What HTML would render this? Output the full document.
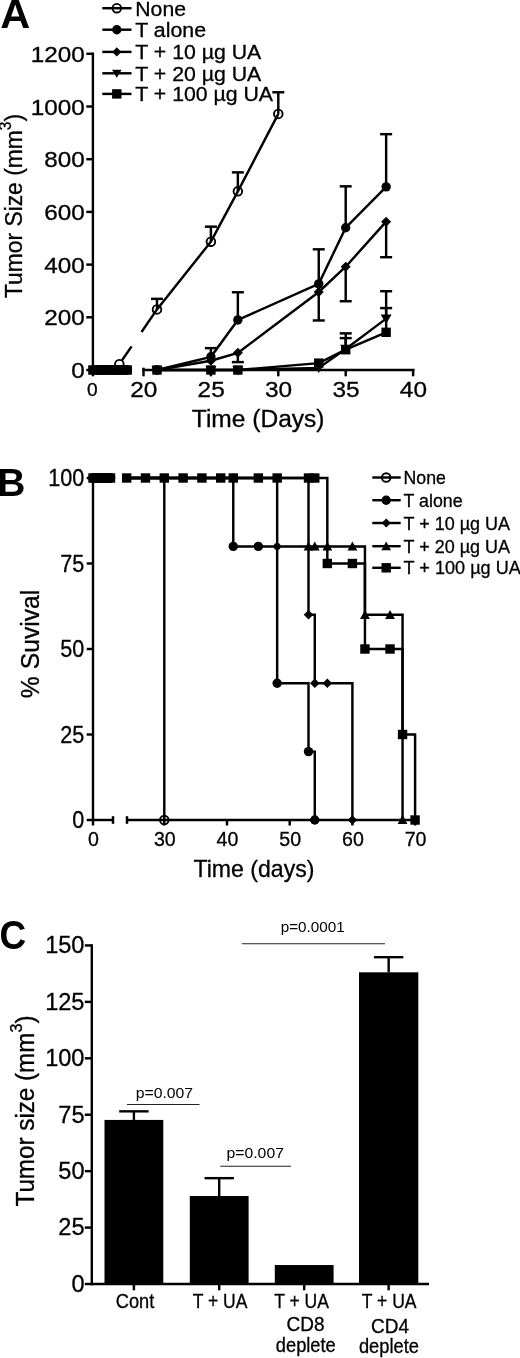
<!DOCTYPE html>
<html lang="en"><head><meta charset="utf-8"><title>Figure</title>
<style>
html,body{margin:0;padding:0;background:#fff;}
svg{display:block;}
text{font-family:"Liberation Sans",Arial,Helvetica,sans-serif;fill:#000;stroke:#000;stroke-width:0.3px;}
text[font-weight="bold"],text.thin{stroke-width:0;}
</style></head><body>
<svg width="520" height="1358" viewBox="0 0 520 1358">
<rect width="520" height="1358" fill="#fff"/>
<g id="panelA">
<line x1="92.90" y1="52.58" x2="92.90" y2="371.23" stroke="#000" stroke-width="2.4" stroke-linecap="butt"/>
<line x1="86.30" y1="370.00" x2="92.90" y2="370.00" stroke="#000" stroke-width="2.45" stroke-linecap="butt"/>
<text x="84.80" y="378.00" font-size="21.8" text-anchor="end" font-weight="normal" textLength="13.51" lengthAdjust="spacingAndGlyphs" >0</text>
<line x1="86.30" y1="317.30" x2="92.90" y2="317.30" stroke="#000" stroke-width="2.45" stroke-linecap="butt"/>
<text x="84.80" y="325.30" font-size="21.8" text-anchor="end" font-weight="normal" textLength="40.54" lengthAdjust="spacingAndGlyphs" >200</text>
<line x1="86.30" y1="264.60" x2="92.90" y2="264.60" stroke="#000" stroke-width="2.45" stroke-linecap="butt"/>
<text x="84.80" y="272.60" font-size="21.8" text-anchor="end" font-weight="normal" textLength="40.54" lengthAdjust="spacingAndGlyphs" >400</text>
<line x1="86.30" y1="211.90" x2="92.90" y2="211.90" stroke="#000" stroke-width="2.45" stroke-linecap="butt"/>
<text x="84.80" y="219.90" font-size="21.8" text-anchor="end" font-weight="normal" textLength="40.54" lengthAdjust="spacingAndGlyphs" >600</text>
<line x1="86.30" y1="159.20" x2="92.90" y2="159.20" stroke="#000" stroke-width="2.45" stroke-linecap="butt"/>
<text x="84.80" y="167.20" font-size="21.8" text-anchor="end" font-weight="normal" textLength="40.54" lengthAdjust="spacingAndGlyphs" >800</text>
<line x1="86.30" y1="106.50" x2="92.90" y2="106.50" stroke="#000" stroke-width="2.45" stroke-linecap="butt"/>
<text x="84.80" y="114.50" font-size="21.8" text-anchor="end" font-weight="normal" textLength="54.06" lengthAdjust="spacingAndGlyphs" >1000</text>
<line x1="86.30" y1="53.80" x2="92.90" y2="53.80" stroke="#000" stroke-width="2.45" stroke-linecap="butt"/>
<text x="84.80" y="61.80" font-size="21.8" text-anchor="end" font-weight="normal" textLength="54.06" lengthAdjust="spacingAndGlyphs" >1200</text>
<line x1="91.90" y1="370.00" x2="131.80" y2="370.00" stroke="#000" stroke-width="2.45" stroke-linecap="butt"/>
<line x1="142.28" y1="370.00" x2="414.60" y2="370.00" stroke="#000" stroke-width="2.45" stroke-linecap="butt"/>
<line x1="143.50" y1="367.70" x2="143.50" y2="376.30" stroke="#000" stroke-width="2.45" stroke-linecap="butt"/>
<line x1="210.90" y1="370.00" x2="210.90" y2="376.30" stroke="#000" stroke-width="2.45" stroke-linecap="butt"/>
<line x1="278.30" y1="370.00" x2="278.30" y2="376.30" stroke="#000" stroke-width="2.45" stroke-linecap="butt"/>
<line x1="345.70" y1="370.00" x2="345.70" y2="376.30" stroke="#000" stroke-width="2.45" stroke-linecap="butt"/>
<line x1="413.10" y1="370.00" x2="413.10" y2="376.30" stroke="#000" stroke-width="2.45" stroke-linecap="butt"/>
<text x="143.80" y="396.90" font-size="22" text-anchor="middle" font-weight="normal" textLength="27.16" lengthAdjust="spacingAndGlyphs" >20</text>
<text x="211.20" y="396.90" font-size="22" text-anchor="middle" font-weight="normal" textLength="27.16" lengthAdjust="spacingAndGlyphs" >25</text>
<text x="278.60" y="396.90" font-size="22" text-anchor="middle" font-weight="normal" textLength="27.16" lengthAdjust="spacingAndGlyphs" >30</text>
<text x="346.00" y="396.90" font-size="22" text-anchor="middle" font-weight="normal" textLength="27.16" lengthAdjust="spacingAndGlyphs" >35</text>
<text x="413.40" y="396.90" font-size="22" text-anchor="middle" font-weight="normal" textLength="27.16" lengthAdjust="spacingAndGlyphs" >40</text>
<line x1="92.90" y1="370.00" x2="92.90" y2="376.30" stroke="#000" stroke-width="2.45" stroke-linecap="butt"/>
<text x="92.40" y="395.50" font-size="18" text-anchor="middle" font-weight="normal" textLength="10.61" lengthAdjust="spacingAndGlyphs" >0</text>
<text x="258.20" y="427.00" font-size="23" text-anchor="middle" font-weight="normal" textLength="132.72" lengthAdjust="spacingAndGlyphs" >Time (Days)</text>
<text transform="translate(22.1,206) rotate(-90) scale(1,1.06)" font-size="22.8" text-anchor="middle" textLength="184" lengthAdjust="spacingAndGlyphs">Tumor Size (mm<tspan font-size="15.5" dy="-10.5">3</tspan><tspan dy="10.5">)</tspan></text>
<text x="0.30" y="28.00" font-size="41.5" text-anchor="start" font-weight="bold" >A</text>
<line x1="156.98" y1="309.39" x2="156.98" y2="298.86" stroke="#000" stroke-width="2.45" stroke-linecap="butt"/>
<line x1="150.98" y1="298.86" x2="162.98" y2="298.86" stroke="#000" stroke-width="2.45" stroke-linecap="butt"/>
<line x1="210.90" y1="241.68" x2="210.90" y2="226.66" stroke="#000" stroke-width="2.45" stroke-linecap="butt"/>
<line x1="204.90" y1="226.66" x2="216.90" y2="226.66" stroke="#000" stroke-width="2.45" stroke-linecap="butt"/>
<line x1="237.86" y1="191.35" x2="237.86" y2="172.38" stroke="#000" stroke-width="2.45" stroke-linecap="butt"/>
<line x1="231.86" y1="172.38" x2="243.86" y2="172.38" stroke="#000" stroke-width="2.45" stroke-linecap="butt"/>
<line x1="278.30" y1="113.88" x2="278.30" y2="92.27" stroke="#000" stroke-width="2.45" stroke-linecap="butt"/>
<line x1="272.30" y1="92.27" x2="284.30" y2="92.27" stroke="#000" stroke-width="2.45" stroke-linecap="butt"/>
<line x1="210.90" y1="356.82" x2="210.90" y2="348.13" stroke="#000" stroke-width="2.45" stroke-linecap="butt"/>
<line x1="204.90" y1="348.13" x2="216.90" y2="348.13" stroke="#000" stroke-width="2.45" stroke-linecap="butt"/>
<line x1="237.86" y1="319.94" x2="237.86" y2="292.27" stroke="#000" stroke-width="2.45" stroke-linecap="butt"/>
<line x1="231.86" y1="292.27" x2="243.86" y2="292.27" stroke="#000" stroke-width="2.45" stroke-linecap="butt"/>
<line x1="318.74" y1="283.84" x2="318.74" y2="249.32" stroke="#000" stroke-width="2.45" stroke-linecap="butt"/>
<line x1="312.74" y1="249.32" x2="324.74" y2="249.32" stroke="#000" stroke-width="2.45" stroke-linecap="butt"/>
<line x1="318.74" y1="283.84" x2="318.74" y2="320.46" stroke="#000" stroke-width="2.45" stroke-linecap="butt"/>
<line x1="312.74" y1="320.46" x2="324.74" y2="320.46" stroke="#000" stroke-width="2.45" stroke-linecap="butt"/>
<line x1="345.70" y1="227.71" x2="345.70" y2="186.34" stroke="#000" stroke-width="2.45" stroke-linecap="butt"/>
<line x1="339.70" y1="186.34" x2="351.70" y2="186.34" stroke="#000" stroke-width="2.45" stroke-linecap="butt"/>
<line x1="386.14" y1="186.87" x2="386.14" y2="134.17" stroke="#000" stroke-width="2.45" stroke-linecap="butt"/>
<line x1="380.14" y1="134.17" x2="392.14" y2="134.17" stroke="#000" stroke-width="2.45" stroke-linecap="butt"/>
<line x1="237.86" y1="352.87" x2="237.86" y2="362.10" stroke="#000" stroke-width="2.45" stroke-linecap="butt"/>
<line x1="231.86" y1="362.10" x2="243.86" y2="362.10" stroke="#000" stroke-width="2.45" stroke-linecap="butt"/>
<line x1="345.70" y1="266.71" x2="345.70" y2="301.23" stroke="#000" stroke-width="2.45" stroke-linecap="butt"/>
<line x1="339.70" y1="301.23" x2="351.70" y2="301.23" stroke="#000" stroke-width="2.45" stroke-linecap="butt"/>
<line x1="386.14" y1="221.65" x2="386.14" y2="257.22" stroke="#000" stroke-width="2.45" stroke-linecap="butt"/>
<line x1="380.14" y1="257.22" x2="392.14" y2="257.22" stroke="#000" stroke-width="2.45" stroke-linecap="butt"/>
<line x1="345.70" y1="348.92" x2="345.70" y2="333.37" stroke="#000" stroke-width="2.45" stroke-linecap="butt"/>
<line x1="339.70" y1="333.37" x2="351.70" y2="333.37" stroke="#000" stroke-width="2.45" stroke-linecap="butt"/>
<line x1="386.14" y1="318.62" x2="386.14" y2="291.21" stroke="#000" stroke-width="2.45" stroke-linecap="butt"/>
<line x1="380.14" y1="291.21" x2="392.14" y2="291.21" stroke="#000" stroke-width="2.45" stroke-linecap="butt"/>
<line x1="345.70" y1="349.71" x2="345.70" y2="338.12" stroke="#000" stroke-width="2.45" stroke-linecap="butt"/>
<line x1="339.70" y1="338.12" x2="351.70" y2="338.12" stroke="#000" stroke-width="2.45" stroke-linecap="butt"/>
<line x1="386.14" y1="332.32" x2="386.14" y2="308.08" stroke="#000" stroke-width="2.45" stroke-linecap="butt"/>
<line x1="380.14" y1="308.08" x2="392.14" y2="308.08" stroke="#000" stroke-width="2.45" stroke-linecap="butt"/>
<line x1="121.86" y1="360.56" x2="131.60" y2="346.37" stroke="#000" stroke-width="2.45" stroke-linecap="butt"/>
<line x1="141.50" y1="331.95" x2="156.98" y2="309.39" stroke="#000" stroke-width="2.45" stroke-linecap="butt"/>
<polyline points="156.98,309.39 210.90,241.68 237.86,191.35 278.30,113.88" fill="none" stroke="#000" stroke-width="2.45" stroke-linejoin="miter"/>
<polyline points="156.98,370.00 210.90,356.82 237.86,319.94 318.74,283.84 345.70,227.71 386.14,186.87" fill="none" stroke="#000" stroke-width="2.45" stroke-linejoin="miter"/>
<polyline points="156.98,370.00 210.90,360.78 237.86,352.87 318.74,292.00 345.70,266.71 386.14,221.65" fill="none" stroke="#000" stroke-width="2.45" stroke-linejoin="miter"/>
<polyline points="156.98,370.00 210.90,370.00 237.86,370.00 318.74,367.89 345.70,348.92 386.14,318.62" fill="none" stroke="#000" stroke-width="2.45" stroke-linejoin="miter"/>
<polyline points="156.98,370.00 210.90,370.00 237.86,370.00 318.74,363.15 345.70,349.71 386.14,332.32" fill="none" stroke="#000" stroke-width="2.45" stroke-linejoin="miter"/>
<rect x="88.20" y="365.30" width="9.40" height="9.40" fill="#000"/>
<circle cx="92.90" cy="370.00" r="4.7" fill="#000"/>
<polygon points="87.90,370.00 92.90,365.00 97.90,370.00 92.90,375.00" fill="#000"/>
<rect x="94.26" y="365.30" width="9.40" height="9.40" fill="#000"/>
<circle cx="98.96" cy="370.00" r="4.7" fill="#000"/>
<polygon points="93.96,370.00 98.96,365.00 103.96,370.00 98.96,375.00" fill="#000"/>
<rect x="98.30" y="365.30" width="9.40" height="9.40" fill="#000"/>
<circle cx="103.00" cy="370.00" r="4.7" fill="#000"/>
<polygon points="98.00,370.00 103.00,365.00 108.00,370.00 103.00,375.00" fill="#000"/>
<rect x="102.34" y="365.30" width="9.40" height="9.40" fill="#000"/>
<circle cx="107.04" cy="370.00" r="4.7" fill="#000"/>
<polygon points="102.04,370.00 107.04,365.00 112.04,370.00 107.04,375.00" fill="#000"/>
<rect x="108.40" y="365.30" width="9.40" height="9.40" fill="#000"/>
<circle cx="113.10" cy="370.00" r="4.7" fill="#000"/>
<polygon points="108.10,370.00 113.10,365.00 118.10,370.00 113.10,375.00" fill="#000"/>
<rect x="112.44" y="365.30" width="9.40" height="9.40" fill="#000"/>
<circle cx="117.14" cy="370.00" r="4.7" fill="#000"/>
<polygon points="112.14,370.00 117.14,365.00 122.14,370.00 117.14,375.00" fill="#000"/>
<rect x="116.48" y="365.30" width="9.40" height="9.40" fill="#000"/>
<circle cx="121.18" cy="370.00" r="4.7" fill="#000"/>
<polygon points="116.18,370.00 121.18,365.00 126.18,370.00 121.18,375.00" fill="#000"/>
<rect x="122.54" y="365.30" width="9.40" height="9.40" fill="#000"/>
<circle cx="127.24" cy="370.00" r="4.7" fill="#000"/>
<polygon points="122.24,370.00 127.24,365.00 132.24,370.00 127.24,375.00" fill="#000"/>
<rect x="92.90" y="365.50" width="34.34" height="9.00" fill="#000"/>
<circle cx="156.98" cy="370.00" r="4.7" fill="#000"/>
<circle cx="210.90" cy="356.82" r="4.7" fill="#000"/>
<circle cx="237.86" cy="319.94" r="4.7" fill="#000"/>
<circle cx="318.74" cy="283.84" r="4.7" fill="#000"/>
<circle cx="345.70" cy="227.71" r="4.7" fill="#000"/>
<circle cx="386.14" cy="186.87" r="4.7" fill="#000"/>
<polygon points="151.98,370.00 156.98,365.00 161.98,370.00 156.98,375.00" fill="#000"/>
<polygon points="205.90,360.78 210.90,355.78 215.90,360.78 210.90,365.78" fill="#000"/>
<polygon points="232.86,352.87 237.86,347.87 242.86,352.87 237.86,357.87" fill="#000"/>
<polygon points="313.74,292.00 318.74,287.00 323.74,292.00 318.74,297.00" fill="#000"/>
<polygon points="340.70,266.71 345.70,261.71 350.70,266.71 345.70,271.71" fill="#000"/>
<polygon points="381.14,221.65 386.14,216.65 391.14,221.65 386.14,226.65" fill="#000"/>
<polygon points="151.48,365.88 162.48,365.88 156.98,375.23" fill="#000"/>
<polygon points="205.40,365.88 216.40,365.88 210.90,375.23" fill="#000"/>
<polygon points="232.36,365.88 243.36,365.88 237.86,375.23" fill="#000"/>
<polygon points="313.24,363.77 324.24,363.77 318.74,373.12" fill="#000"/>
<polygon points="340.20,344.80 351.20,344.80 345.70,354.15" fill="#000"/>
<polygon points="380.64,314.49 391.64,314.49 386.14,323.84" fill="#000"/>
<rect x="152.28" y="365.30" width="9.40" height="9.40" fill="#000"/>
<rect x="206.20" y="365.30" width="9.40" height="9.40" fill="#000"/>
<rect x="233.16" y="365.30" width="9.40" height="9.40" fill="#000"/>
<rect x="314.04" y="358.45" width="9.40" height="9.40" fill="#000"/>
<rect x="341.00" y="345.01" width="9.40" height="9.40" fill="#000"/>
<rect x="381.44" y="327.62" width="9.40" height="9.40" fill="#000"/>
<circle cx="119.36" cy="364.20" r="4.3" fill="none" stroke="#000" stroke-width="1.9"/>
<circle cx="156.98" cy="309.39" r="4.3" fill="none" stroke="#000" stroke-width="1.9"/>
<circle cx="210.90" cy="241.68" r="4.3" fill="none" stroke="#000" stroke-width="1.9"/>
<circle cx="237.86" cy="191.35" r="4.3" fill="none" stroke="#000" stroke-width="1.9"/>
<circle cx="278.30" cy="113.88" r="4.3" fill="none" stroke="#000" stroke-width="1.9"/>
<line x1="102.30" y1="8.20" x2="131.50" y2="8.20" stroke="#000" stroke-width="2.45" stroke-linecap="butt"/>
<circle cx="116.80" cy="8.20" r="4.3" fill="none" stroke="#000" stroke-width="1.9"/>
<text x="135.30" y="15.60" font-size="20" text-anchor="start" font-weight="normal" textLength="50.67" lengthAdjust="spacingAndGlyphs" >None</text>
<line x1="102.30" y1="29.70" x2="131.50" y2="29.70" stroke="#000" stroke-width="2.45" stroke-linecap="butt"/>
<circle cx="116.80" cy="29.70" r="4.7" fill="#000"/>
<text x="135.30" y="37.10" font-size="20" text-anchor="start" font-weight="normal" textLength="70.70" lengthAdjust="spacingAndGlyphs" >T alone</text>
<line x1="102.30" y1="51.90" x2="131.50" y2="51.90" stroke="#000" stroke-width="2.45" stroke-linecap="butt"/>
<polygon points="112.20,51.90 116.80,47.30 121.40,51.90 116.80,56.50" fill="#000"/>
<text x="135.30" y="59.30" font-size="20" text-anchor="start" font-weight="normal" textLength="125.93" lengthAdjust="spacingAndGlyphs" >T + 10 µg UA</text>
<line x1="102.30" y1="73.30" x2="131.50" y2="73.30" stroke="#000" stroke-width="2.45" stroke-linecap="butt"/>
<polygon points="112.00,69.70 121.60,69.70 116.80,77.86" fill="#000"/>
<text x="135.30" y="80.70" font-size="20" text-anchor="start" font-weight="normal" textLength="125.93" lengthAdjust="spacingAndGlyphs" >T + 20 µg UA</text>
<line x1="102.30" y1="93.90" x2="131.50" y2="93.90" stroke="#000" stroke-width="2.45" stroke-linecap="butt"/>
<rect x="112.10" y="89.20" width="9.40" height="9.40" fill="#000"/>
<text x="135.30" y="101.30" font-size="20" text-anchor="start" font-weight="normal" textLength="137.72" lengthAdjust="spacingAndGlyphs" >T + 100 µg UA</text>
</g>
<g id="panelB">
<line x1="93.00" y1="476.77" x2="93.00" y2="821.23" stroke="#000" stroke-width="2.4" stroke-linecap="butt"/>
<line x1="86.70" y1="820.00" x2="93.00" y2="820.00" stroke="#000" stroke-width="2.45" stroke-linecap="butt"/>
<text x="84.30" y="828.00" font-size="23" text-anchor="end" font-weight="normal" textLength="12.02" lengthAdjust="spacingAndGlyphs" >0</text>
<line x1="86.70" y1="734.50" x2="93.00" y2="734.50" stroke="#000" stroke-width="2.45" stroke-linecap="butt"/>
<text x="84.30" y="742.50" font-size="23" text-anchor="end" font-weight="normal" textLength="24.04" lengthAdjust="spacingAndGlyphs" >25</text>
<line x1="86.70" y1="649.00" x2="93.00" y2="649.00" stroke="#000" stroke-width="2.45" stroke-linecap="butt"/>
<text x="84.30" y="657.00" font-size="23" text-anchor="end" font-weight="normal" textLength="24.04" lengthAdjust="spacingAndGlyphs" >50</text>
<line x1="86.70" y1="563.50" x2="93.00" y2="563.50" stroke="#000" stroke-width="2.45" stroke-linecap="butt"/>
<text x="84.30" y="571.50" font-size="23" text-anchor="end" font-weight="normal" textLength="24.04" lengthAdjust="spacingAndGlyphs" >75</text>
<line x1="86.70" y1="478.00" x2="93.00" y2="478.00" stroke="#000" stroke-width="2.45" stroke-linecap="butt"/>
<text x="84.30" y="486.00" font-size="23" text-anchor="end" font-weight="normal" textLength="36.06" lengthAdjust="spacingAndGlyphs" >100</text>
<line x1="92.00" y1="820.00" x2="113.80" y2="820.00" stroke="#000" stroke-width="2.45" stroke-linecap="butt"/>
<line x1="113.00" y1="816.20" x2="113.00" y2="823.80" stroke="#000" stroke-width="2.45" stroke-linecap="butt"/>
<line x1="127.00" y1="816.20" x2="127.00" y2="823.80" stroke="#000" stroke-width="2.45" stroke-linecap="butt"/>
<line x1="126.50" y1="820.00" x2="416.00" y2="820.00" stroke="#000" stroke-width="2.45" stroke-linecap="butt"/>
<line x1="93.00" y1="820.00" x2="93.00" y2="825.50" stroke="#000" stroke-width="2.45" stroke-linecap="butt"/>
<text x="93.40" y="845.80" font-size="20" text-anchor="middle" font-weight="normal" textLength="10.90" lengthAdjust="spacingAndGlyphs" >0</text>
<line x1="164.30" y1="820.00" x2="164.30" y2="825.50" stroke="#000" stroke-width="2.45" stroke-linecap="butt"/>
<text x="164.80" y="845.80" font-size="20" text-anchor="middle" font-weight="normal" textLength="21.80" lengthAdjust="spacingAndGlyphs" >30</text>
<line x1="227.00" y1="820.00" x2="227.00" y2="825.50" stroke="#000" stroke-width="2.45" stroke-linecap="butt"/>
<text x="227.50" y="845.80" font-size="20" text-anchor="middle" font-weight="normal" textLength="21.80" lengthAdjust="spacingAndGlyphs" >40</text>
<line x1="289.70" y1="820.00" x2="289.70" y2="825.50" stroke="#000" stroke-width="2.45" stroke-linecap="butt"/>
<text x="290.20" y="845.80" font-size="20" text-anchor="middle" font-weight="normal" textLength="21.80" lengthAdjust="spacingAndGlyphs" >50</text>
<line x1="352.40" y1="820.00" x2="352.40" y2="825.50" stroke="#000" stroke-width="2.45" stroke-linecap="butt"/>
<text x="352.90" y="845.80" font-size="20" text-anchor="middle" font-weight="normal" textLength="21.80" lengthAdjust="spacingAndGlyphs" >60</text>
<line x1="415.10" y1="820.00" x2="415.10" y2="825.50" stroke="#000" stroke-width="2.45" stroke-linecap="butt"/>
<text x="415.60" y="845.80" font-size="20" text-anchor="middle" font-weight="normal" textLength="21.80" lengthAdjust="spacingAndGlyphs" >70</text>
<text x="254.00" y="877.00" font-size="24" text-anchor="middle" font-weight="normal" textLength="120.97" lengthAdjust="spacingAndGlyphs" >Time (days)</text>
<text transform="translate(38.8,643.9) rotate(-90)" font-size="25" text-anchor="middle" textLength="108.5" lengthAdjust="spacingAndGlyphs">% Suvival</text>
<text x="-2.80" y="496.00" font-size="39" text-anchor="start" font-weight="bold" >B</text>
<polyline points="122.30,478.00 164.30,478.00 164.30,820.00" fill="none" stroke="#000" stroke-width="2.45" stroke-linejoin="miter"/>
<polyline points="122.30,478.00 233.27,478.00 233.27,546.40 277.16,546.40 277.16,683.20 308.51,683.20 308.51,751.60 314.78,751.60 314.78,820.00" fill="none" stroke="#000" stroke-width="2.45" stroke-linejoin="miter"/>
<polyline points="122.30,478.00 308.51,478.00 308.51,614.80 314.78,614.80 314.78,683.20 352.40,683.20 352.40,820.00" fill="none" stroke="#000" stroke-width="2.45" stroke-linejoin="miter"/>
<polyline points="122.30,478.00 277.16,478.00 277.16,546.40 364.94,546.40 364.94,614.80 402.56,614.80 402.56,820.00" fill="none" stroke="#000" stroke-width="2.45" stroke-linejoin="miter"/>
<polyline points="122.30,478.00 327.32,478.00 327.32,563.50 364.94,563.50 364.94,649.00 402.56,649.00 402.56,734.50 415.10,734.50 415.10,820.00" fill="none" stroke="#000" stroke-width="2.45" stroke-linejoin="miter"/>
<rect x="88.30" y="473.30" width="9.40" height="9.40" fill="#000"/>
<circle cx="93.00" cy="478.00" r="4.7" fill="#000"/>
<polygon points="88.00,478.00 93.00,473.00 98.00,478.00 93.00,483.00" fill="#000"/>
<rect x="90.80" y="473.30" width="9.40" height="9.40" fill="#000"/>
<circle cx="95.50" cy="478.00" r="4.7" fill="#000"/>
<polygon points="90.50,478.00 95.50,473.00 100.50,478.00 95.50,483.00" fill="#000"/>
<rect x="93.30" y="473.30" width="9.40" height="9.40" fill="#000"/>
<circle cx="98.00" cy="478.00" r="4.7" fill="#000"/>
<polygon points="93.00,478.00 98.00,473.00 103.00,478.00 98.00,483.00" fill="#000"/>
<rect x="95.80" y="473.30" width="9.40" height="9.40" fill="#000"/>
<circle cx="100.50" cy="478.00" r="4.7" fill="#000"/>
<polygon points="95.50,478.00 100.50,473.00 105.50,478.00 100.50,483.00" fill="#000"/>
<rect x="98.30" y="473.30" width="9.40" height="9.40" fill="#000"/>
<circle cx="103.00" cy="478.00" r="4.7" fill="#000"/>
<polygon points="98.00,478.00 103.00,473.00 108.00,478.00 103.00,483.00" fill="#000"/>
<rect x="100.80" y="473.30" width="9.40" height="9.40" fill="#000"/>
<circle cx="105.50" cy="478.00" r="4.7" fill="#000"/>
<polygon points="100.50,478.00 105.50,473.00 110.50,478.00 105.50,483.00" fill="#000"/>
<rect x="103.29" y="473.30" width="9.40" height="9.40" fill="#000"/>
<circle cx="107.99" cy="478.00" r="4.7" fill="#000"/>
<polygon points="102.99,478.00 107.99,473.00 112.99,478.00 107.99,483.00" fill="#000"/>
<rect x="105.79" y="473.30" width="9.40" height="9.40" fill="#000"/>
<circle cx="110.49" cy="478.00" r="4.7" fill="#000"/>
<polygon points="105.49,478.00 110.49,473.00 115.49,478.00 110.49,483.00" fill="#000"/>
<rect x="93.00" y="473.30" width="17.49" height="9.40" fill="#000"/>
<rect x="121.98" y="473.30" width="9.40" height="9.40" fill="#000"/>
<rect x="140.79" y="473.30" width="9.40" height="9.40" fill="#000"/>
<rect x="159.60" y="473.30" width="9.40" height="9.40" fill="#000"/>
<rect x="178.41" y="473.30" width="9.40" height="9.40" fill="#000"/>
<rect x="197.22" y="473.30" width="9.40" height="9.40" fill="#000"/>
<rect x="216.03" y="473.30" width="9.40" height="9.40" fill="#000"/>
<rect x="228.57" y="473.30" width="9.40" height="9.40" fill="#000"/>
<rect x="253.65" y="473.30" width="9.40" height="9.40" fill="#000"/>
<rect x="272.46" y="473.30" width="9.40" height="9.40" fill="#000"/>
<rect x="303.81" y="473.30" width="9.40" height="9.40" fill="#000"/>
<rect x="310.08" y="473.30" width="9.40" height="9.40" fill="#000"/>
<circle cx="233.27" cy="546.40" r="4.7" fill="#000"/>
<circle cx="258.35" cy="546.40" r="4.7" fill="#000"/>
<circle cx="277.16" cy="683.20" r="4.7" fill="#000"/>
<circle cx="308.51" cy="751.60" r="4.7" fill="#000"/>
<circle cx="314.78" cy="820.00" r="4.7" fill="#000"/>
<polygon points="303.71,614.80 308.51,610.00 313.31,614.80 308.51,619.60" fill="#000"/>
<polygon points="309.98,683.20 314.78,678.40 319.58,683.20 314.78,688.00" fill="#000"/>
<polygon points="322.52,683.20 327.32,678.40 332.12,683.20 327.32,688.00" fill="#000"/>
<polygon points="347.60,820.00 352.40,815.20 357.20,820.00 352.40,824.80" fill="#000"/>
<circle cx="277.16" cy="546.40" r="3.4" fill="#000"/>
<polygon points="228.37,482.12 238.17,482.12 233.27,473.10" fill="#000"/>
<polygon points="303.61,550.52 313.41,550.52 308.51,541.50" fill="#000"/>
<polygon points="309.88,550.52 319.68,550.52 314.78,541.50" fill="#000"/>
<polygon points="322.42,550.52 332.22,550.52 327.32,541.50" fill="#000"/>
<polygon points="347.50,550.52 357.30,550.52 352.40,541.50" fill="#000"/>
<polygon points="360.04,618.92 369.84,618.92 364.94,609.90" fill="#000"/>
<polygon points="385.12,618.92 394.92,618.92 390.02,609.90" fill="#000"/>
<polygon points="397.66,824.12 407.46,824.12 402.56,815.10" fill="#000"/>
<rect x="322.62" y="558.80" width="9.40" height="9.40" fill="#000"/>
<rect x="347.70" y="558.80" width="9.40" height="9.40" fill="#000"/>
<rect x="360.24" y="644.30" width="9.40" height="9.40" fill="#000"/>
<rect x="385.32" y="644.30" width="9.40" height="9.40" fill="#000"/>
<rect x="397.86" y="729.80" width="9.40" height="9.40" fill="#000"/>
<rect x="410.40" y="815.30" width="9.40" height="9.40" fill="#000"/>
<circle cx="164.30" cy="820.00" r="4.3" fill="none" stroke="#000" stroke-width="1.9"/>
<line x1="372.30" y1="477.50" x2="400.70" y2="477.50" stroke="#000" stroke-width="2.45" stroke-linecap="butt"/>
<circle cx="386.20" cy="477.50" r="4.3" fill="none" stroke="#000" stroke-width="1.9"/>
<text x="403.60" y="484.10" font-size="18.5" text-anchor="start" font-weight="normal" textLength="42.23" lengthAdjust="spacingAndGlyphs" >None</text>
<line x1="372.30" y1="500.20" x2="400.70" y2="500.20" stroke="#000" stroke-width="2.45" stroke-linecap="butt"/>
<circle cx="386.20" cy="500.20" r="4.7" fill="#000"/>
<text x="403.60" y="506.80" font-size="18.5" text-anchor="start" font-weight="normal" textLength="58.92" lengthAdjust="spacingAndGlyphs" >T alone</text>
<line x1="372.30" y1="523.00" x2="400.70" y2="523.00" stroke="#000" stroke-width="2.45" stroke-linecap="butt"/>
<polygon points="381.60,523.00 386.20,518.40 390.80,523.00 386.20,527.60" fill="#000"/>
<text x="403.60" y="529.60" font-size="18.5" text-anchor="start" font-weight="normal" textLength="106.50" lengthAdjust="spacingAndGlyphs" >T + 10 µg UA</text>
<line x1="372.30" y1="546.20" x2="400.70" y2="546.20" stroke="#000" stroke-width="2.45" stroke-linecap="butt"/>
<polygon points="381.40,550.23 391.00,550.23 386.20,541.40" fill="#000"/>
<text x="403.60" y="552.80" font-size="18.5" text-anchor="start" font-weight="normal" textLength="106.50" lengthAdjust="spacingAndGlyphs" >T + 20 µg UA</text>
<line x1="372.30" y1="567.80" x2="400.70" y2="567.80" stroke="#000" stroke-width="2.45" stroke-linecap="butt"/>
<rect x="381.50" y="563.10" width="9.40" height="9.40" fill="#000"/>
<text x="403.60" y="574.40" font-size="18.5" text-anchor="start" font-weight="normal" textLength="117.20" lengthAdjust="spacingAndGlyphs" >T + 100 µg UA</text>
</g>
<g id="panelC">
<line x1="91.80" y1="944.23" x2="91.80" y2="1285.22" stroke="#000" stroke-width="2.4" stroke-linecap="butt"/>
<line x1="84.80" y1="1284.00" x2="91.80" y2="1284.00" stroke="#000" stroke-width="2.45" stroke-linecap="butt"/>
<text x="84.50" y="1291.90" font-size="24" text-anchor="end" font-weight="normal" textLength="13.12" lengthAdjust="spacingAndGlyphs" >0</text>
<line x1="84.80" y1="1227.58" x2="91.80" y2="1227.58" stroke="#000" stroke-width="2.45" stroke-linecap="butt"/>
<text x="84.50" y="1235.48" font-size="24" text-anchor="end" font-weight="normal" textLength="26.23" lengthAdjust="spacingAndGlyphs" >25</text>
<line x1="84.80" y1="1171.15" x2="91.80" y2="1171.15" stroke="#000" stroke-width="2.45" stroke-linecap="butt"/>
<text x="84.50" y="1179.05" font-size="24" text-anchor="end" font-weight="normal" textLength="26.23" lengthAdjust="spacingAndGlyphs" >50</text>
<line x1="84.80" y1="1114.72" x2="91.80" y2="1114.72" stroke="#000" stroke-width="2.45" stroke-linecap="butt"/>
<text x="84.50" y="1122.62" font-size="24" text-anchor="end" font-weight="normal" textLength="26.23" lengthAdjust="spacingAndGlyphs" >75</text>
<line x1="84.80" y1="1058.30" x2="91.80" y2="1058.30" stroke="#000" stroke-width="2.45" stroke-linecap="butt"/>
<text x="84.50" y="1066.20" font-size="24" text-anchor="end" font-weight="normal" textLength="39.35" lengthAdjust="spacingAndGlyphs" >100</text>
<line x1="84.80" y1="1001.88" x2="91.80" y2="1001.88" stroke="#000" stroke-width="2.45" stroke-linecap="butt"/>
<text x="84.50" y="1009.77" font-size="24" text-anchor="end" font-weight="normal" textLength="39.35" lengthAdjust="spacingAndGlyphs" >125</text>
<line x1="84.80" y1="945.45" x2="91.80" y2="945.45" stroke="#000" stroke-width="2.45" stroke-linecap="butt"/>
<text x="84.50" y="953.35" font-size="24" text-anchor="end" font-weight="normal" textLength="39.35" lengthAdjust="spacingAndGlyphs" >150</text>
<line x1="90.80" y1="1284.00" x2="429.00" y2="1284.00" stroke="#000" stroke-width="2.5" stroke-linecap="butt"/>
<line x1="133.90" y1="1119.92" x2="133.90" y2="1111.34" stroke="#000" stroke-width="2.4" stroke-linecap="butt"/>
<line x1="119.20" y1="1111.34" x2="148.60" y2="1111.34" stroke="#000" stroke-width="2.4" stroke-linecap="butt"/>
<rect x="104.50" y="1119.92" width="58.80" height="164.08" fill="#000"/>
<line x1="133.90" y1="1284.00" x2="133.90" y2="1290.30" stroke="#000" stroke-width="2.45" stroke-linecap="butt"/>
<line x1="219.20" y1="1195.98" x2="219.20" y2="1178.15" stroke="#000" stroke-width="2.4" stroke-linecap="butt"/>
<line x1="204.50" y1="1178.15" x2="233.90" y2="1178.15" stroke="#000" stroke-width="2.4" stroke-linecap="butt"/>
<rect x="189.80" y="1195.98" width="58.80" height="88.02" fill="#000"/>
<line x1="219.20" y1="1284.00" x2="219.20" y2="1290.30" stroke="#000" stroke-width="2.45" stroke-linecap="butt"/>
<rect x="274.80" y="1265.04" width="58.80" height="18.96" fill="#000"/>
<line x1="304.20" y1="1284.00" x2="304.20" y2="1290.30" stroke="#000" stroke-width="2.45" stroke-linecap="butt"/>
<line x1="388.65" y1="972.31" x2="388.65" y2="957.19" stroke="#000" stroke-width="2.4" stroke-linecap="butt"/>
<line x1="373.95" y1="957.19" x2="403.35" y2="957.19" stroke="#000" stroke-width="2.4" stroke-linecap="butt"/>
<rect x="359.00" y="972.31" width="59.30" height="311.69" fill="#000"/>
<line x1="388.65" y1="1284.00" x2="388.65" y2="1290.30" stroke="#000" stroke-width="2.45" stroke-linecap="butt"/>
<line x1="127.00" y1="1104.50" x2="199.50" y2="1104.50" stroke="#222" stroke-width="1.1" stroke-linecap="butt"/>
<text x="164.40" y="1098.10" font-size="15.4" text-anchor="middle" font-weight="normal" textLength="57.50" lengthAdjust="spacingAndGlyphs" class="thin">p=0.007</text>
<line x1="220.30" y1="1166.30" x2="291.00" y2="1166.30" stroke="#222" stroke-width="1.1" stroke-linecap="butt"/>
<text x="255.20" y="1157.90" font-size="15.4" text-anchor="middle" font-weight="normal" textLength="57.50" lengthAdjust="spacingAndGlyphs" class="thin">p=0.007</text>
<line x1="241.80" y1="943.70" x2="385.00" y2="943.70" stroke="#222" stroke-width="1.1" stroke-linecap="butt"/>
<text x="312.70" y="931.60" font-size="15.4" text-anchor="middle" font-weight="normal" textLength="64.00" lengthAdjust="spacingAndGlyphs" class="thin">p=0.0001</text>
<text x="135.00" y="1308.00" font-size="20" text-anchor="middle" font-weight="normal" textLength="38.50" lengthAdjust="spacingAndGlyphs" >Cont</text>
<text x="220.00" y="1308.00" font-size="20" text-anchor="middle" font-weight="normal" textLength="54.70" lengthAdjust="spacingAndGlyphs" >T + UA</text>
<text x="301.50" y="1308.00" font-size="20" text-anchor="middle" font-weight="normal" textLength="54.70" lengthAdjust="spacingAndGlyphs" >T + UA</text>
<text x="305.50" y="1331.30" font-size="20" text-anchor="middle" font-weight="normal" textLength="38.00" lengthAdjust="spacingAndGlyphs" >CD8</text>
<text x="305.80" y="1351.50" font-size="20" text-anchor="middle" font-weight="normal" textLength="60.00" lengthAdjust="spacingAndGlyphs" >deplete</text>
<text x="389.20" y="1308.00" font-size="20" text-anchor="middle" font-weight="normal" textLength="54.70" lengthAdjust="spacingAndGlyphs" >T + UA</text>
<text x="390.00" y="1333.00" font-size="20" text-anchor="middle" font-weight="normal" textLength="38.00" lengthAdjust="spacingAndGlyphs" >CD4</text>
<text x="388.90" y="1352.50" font-size="20" text-anchor="middle" font-weight="normal" textLength="60.00" lengthAdjust="spacingAndGlyphs" >deplete</text>
<text transform="translate(34,1111) rotate(-90) scale(1,1.06)" font-size="24" text-anchor="middle" textLength="191" lengthAdjust="spacingAndGlyphs">Tumor size (mm<tspan font-size="16" dy="-11">3</tspan><tspan dy="11">)</tspan></text>
<text x="-0.50" y="948.60" font-size="41.3" text-anchor="start" font-weight="bold" textLength="26.70" lengthAdjust="spacingAndGlyphs" >C</text>
</g>
</svg>
</body></html>
